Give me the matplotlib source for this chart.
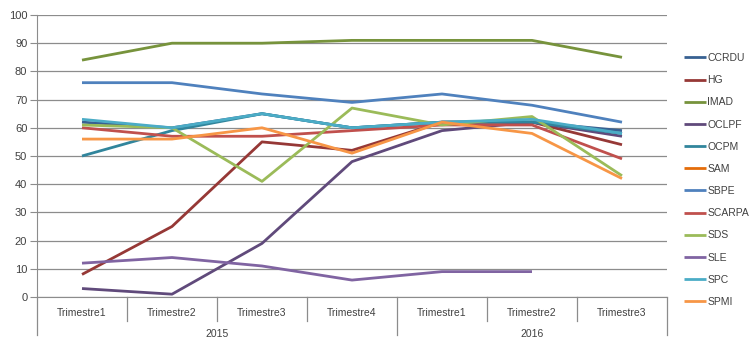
import matplotlib
matplotlib.use('Agg')
import matplotlib.pyplot as plt
import matplotlib.transforms as mtransforms
import numpy as np

nan = np.nan

quarters = ['Trimestre1', 'Trimestre2', 'Trimestre3', 'Trimestre4',
            'Trimestre1', 'Trimestre2', 'Trimestre3']
years = ['2015', '2016']
year_sizes = [4, 3]

names = ['CCRDU', 'HG', 'IMAD', 'OCLPF', 'OCPM', 'SAM',
         'SBPE', 'SCARPA', 'SDS', 'SLE', 'SPC', 'SPMI']

ccrdu = [62, 60, 65, 60, 62, 62, 59]
hg = [8, 25, 55, 52, 62, 62, 54]
imad = [84, 90, 90, 91, 91, 91, 85]
oclpf = [3, 1, 19, 48, 59, 62, 57]
ocpm = [50, 59, 65, 60, 62, 62, 58]
sam = [nan, nan, nan, nan, nan, nan, nan]
sbpe = [76, 76, 72, 69, 72, 68, 62]
scarpa = [60, 57, 57, 59, 61, 61, 49]
sds = [61, 60, 41, 67, 61, 64, 43]
sle = [12, 14, 11, 6, 9, 9, nan]
spc = [63, 60, 65, 60, 62, 63, 58]
spmi = [56, 56, 60, 51, 62, 58, 42]

series = [ccrdu, hg, imad, oclpf, ocpm, sam, sbpe, scarpa, sds, sle, spc, spmi]
colors = ['#386192', '#963836', '#77933C', '#604A7B', '#31859C', '#E46C0A',
          '#4F81BD', '#C0504D', '#9BBB59', '#8064A2', '#4BACC6', '#F79646']

plt.rcParams['font.family'] = ['Liberation Sans', 'DejaVu Sans']

fig = plt.figure(figsize=(7.5, 3.39), dpi=100)
ax = fig.add_axes([37 / 750, 1 - 297 / 339, 630 / 750, 282 / 339])

x = np.arange(len(quarters))
for name, vals, c in zip(names, series, colors):
    ax.plot(x, vals, color=c, lw=2.0, label=name, solid_capstyle='butt')

ax.set_xlim(-0.5, len(quarters) - 0.5)
ax.set_ylim(0, 100)
ax.set_yticks(range(0, 101, 10))
ax.grid(axis='y', color='#8c8c8c', lw=0.9)
ax.set_axisbelow(True)
for s in ['top', 'right']:
    ax.spines[s].set_visible(False)
ax.spines['left'].set_color('#8c8c8c')
ax.spines['bottom'].set_color('#8c8c8c')
ax.tick_params(axis='y', length=5, color='#8c8c8c', labelsize=8,
               labelcolor='#404040', pad=2)
ax.set_xticks([])

# category axis: quarter labels, separators, years
tr = mtransforms.blended_transform_factory(ax.transData, ax.transAxes)
px = 1 / 282
for i, q in enumerate(quarters):
    ax.text(i, -16 * px, q, transform=tr, ha='center', va='center',
            fontsize=7.5, color='#404040')
bounds = np.arange(len(quarters) + 1) - 0.5
year_edges = np.concatenate([[0], np.cumsum(year_sizes)]) - 0.5
for b in bounds:
    low = -38 * px if b in year_edges else -24 * px
    ax.plot([b, b], [0, low], transform=tr, color='#8c8c8c', lw=0.9,
            clip_on=False)
start = 0
for y, n in zip(years, year_sizes):
    ax.text(start + (n - 1) / 2, -37 * px, y, transform=tr, ha='center',
            va='center', fontsize=7.5, color='#404040')
    start += n

ax.legend(loc='center left', bbox_to_anchor=(0.912, 0.469),
          bbox_transform=fig.transFigure, frameon=False, fontsize=7.5,
          handlelength=2.1, handletextpad=0.15, labelspacing=1.17,
          borderpad=0, borderaxespad=0, labelcolor='#404040')

fig.savefig('out.png', dpi=100)
